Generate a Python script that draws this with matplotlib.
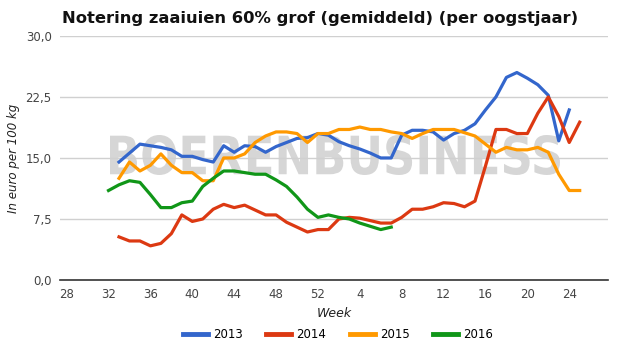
import numpy as np
import matplotlib
matplotlib.use("Agg")
import matplotlib.pyplot as plt
from matplotlib.textpath import TextPath
from matplotlib.patches import PathPatch
from matplotlib.font_manager import FontProperties
from matplotlib.transforms import Affine2D

# week numbers along the x axis (harvest year runs from week 28 to week 25)
weeks = list(range(28, 53)) + list(range(1, 26))

# prices in euro per 100 kg, with the first week of each series
start_2013 = 33
y2013 = [14.5, 15.6, 16.7, 16.5, 16.3, 16.0, 15.2, 15.2, 14.8, 14.5,
         16.5, 15.7, 16.5, 16.4, 15.7, 16.4, 16.9, 17.4, 17.5, 18.0,
         17.8, 17.0, 16.5, 16.1, 15.6, 15.0, 15.0, 17.8, 18.4, 18.4,
         18.2, 17.2, 18.0, 18.4, 19.2, 20.9, 22.5, 24.9, 25.5, 24.8,
         24.0, 22.7, 17.1, 20.9]

start_2014 = 33
y2014 = [5.3, 4.8, 4.8, 4.2, 4.5, 5.7, 8.0, 7.2, 7.5, 8.7,
         9.3, 8.9, 9.2, 8.6, 8.0, 8.0, 7.1, 6.5, 5.9, 6.2,
         6.2, 7.5, 7.7, 7.6, 7.3, 7.0, 7.0, 7.7, 8.7, 8.7,
         9.0, 9.5, 9.4, 9.0, 9.7, 14.0, 18.5, 18.5, 18.0, 18.0,
         20.5, 22.5, 20.1, 16.9, 19.4]

start_2015 = 33
y2015 = [12.5, 14.5, 13.4, 14.1, 15.5, 14.1, 13.2, 13.2, 12.2, 12.2,
         15.0, 15.0, 15.5, 16.9, 17.7, 18.2, 18.2, 18.0, 16.9, 18.0,
         18.0, 18.5, 18.5, 18.8, 18.5, 18.5, 18.2, 18.0, 17.4, 18.0,
         18.5, 18.5, 18.5, 18.1, 17.7, 16.7, 15.7, 16.3, 16.0, 16.0,
         16.3, 15.7, 13.0, 11.0, 11.0]

start_2016 = 32
y2016 = [11.0, 11.7, 12.2, 12.0, 10.5, 8.9, 8.9, 9.5, 9.7, 11.5,
         12.5, 13.4, 13.4, 13.2, 13.0, 13.0, 12.3, 11.5, 10.2, 8.7,
         7.7, 8.0, 7.7, 7.5, 7.0, 6.6, 6.2, 6.5]

years = ["2013", "2014", "2015", "2016"]
colors = ["#3366cc", "#dc3912", "#ff9900", "#109618"]
series = [(start_2013, y2013), (start_2014, y2014), (start_2015, y2015), (start_2016, y2016)]

yticks = [0, 7.5, 15, 22.5, 30]

fig = plt.figure(figsize=(6.31, 3.52), dpi=100)
ax = fig.add_axes([0.095, 0.2045, 0.8685, 0.6935])

# watermark, squeezed to the narrow bold look of the original
wm = TextPath((0, 0), "BOERENBUSINESS", size=1,
              prop=FontProperties(family="DejaVu Sans", weight="bold"))
ext = wm.get_extents()
sx = 450 / ext.width
sy = 40 / ext.height
tr = Affine2D().translate(-ext.x0, -ext.y0).scale(sx, sy).translate(110, 352 - 175)
ax.add_patch(PathPatch(tr.transform_path(wm), transform=None, facecolor="#d6d6d6",
                       edgecolor="none", zorder=0.5))

for (start, vals), year, c in zip(series, years, colors):
    x = np.arange(len(vals)) + weeks.index(start)
    ax.plot(x, vals, color=c, lw=2.3, label=year, zorder=3, solid_joinstyle="round")

ax.set_xlim(-0.64, 51.7)
ax.set_ylim(0, 30)
tick_pos = list(range(0, 49, 4))
ax.set_xticks(tick_pos)
ax.set_xticklabels([str(weeks[i]) for i in tick_pos])
ax.set_yticks(yticks)
ax.set_yticklabels([("%.1f" % v).replace(".", ",") for v in yticks])
ax.tick_params(length=0, labelsize=8.5, labelcolor="#444444", pad=6)
ax.grid(axis="y", color="#d0d0d0", lw=1, zorder=0)
ax.set_axisbelow(True)
for s in ["top", "right", "left"]:
    ax.spines[s].set_visible(False)
ax.spines["bottom"].set_color("#333333")
ax.spines["bottom"].set_linewidth(1.2)
ax.spines["bottom"].set_zorder(4)

ax.set_xlabel("Week", fontsize=9, style="italic", color="#222222", labelpad=4)
ax.set_ylabel("In euro per 100 kg", fontsize=8.5, style="italic", color="#222222", labelpad=4)

fig.text(0.098, 0.948, "Notering zaaiuien 60% grof (gemiddeld) (per oogstjaar)",
         fontsize=11.8, fontweight="bold", color="#111111", ha="left", va="center")

fig.legend(loc="center", bbox_to_anchor=(0.536, 0.05), ncol=4, frameon=False,
           fontsize=8.5, handlelength=2.1, handletextpad=0.45, columnspacing=2.0)
for line in fig.legends[0].get_lines():
    line.set_linewidth(3.5)

fig.savefig("out.png", dpi=100)
